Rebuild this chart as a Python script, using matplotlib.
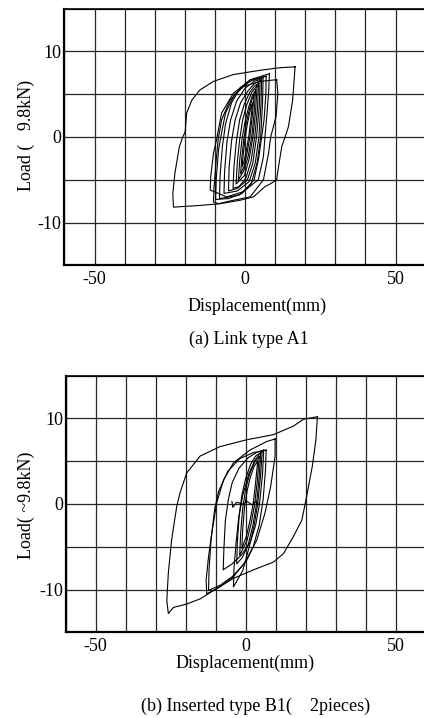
import matplotlib
matplotlib.use("Agg")
import matplotlib.pyplot as plt
import numpy as np

plt.rcParams['font.family'] = ['Liberation Serif', 'DejaVu Serif']
plt.rcParams['axes.unicode_minus'] = False

# (a) Link type A1 -- hysteresis loops, displacement (mm) vs load (x9.8kN)
a1_loops_x = [
    [16.6, 16.3, 15.8, 14.4, 13.3, 12.2, 11.1, 10.5, 8.3, 6.6, 2.8, -1.7, -8.3, -15.0, -23.8,
     -24.0, -23.3, -21.8, -20.7, -19.9, -19.4, -17.7, -15.0, -10.5, -3.9, 5.0, 11.6, 16.6],
    [10.5, 10.9, 10.3, 8.5, 7.8, 6.1, 1.7, -3.9, -8.9, -10.5, -10.3, -9.6, -8.9, -7.8, -5.0, -0.6, 5.0, 10.5],
    [8.1, 7.8, 7.2, 6.6, 6.1, 4.4, -0.6, -6.1, -11.6, -11.4, -10.5, -9.4, -7.8, -3.9, 1.7, 8.1],
    [7.0, 6.9, 6.3, 5.5, 4.5, 3.0, -1.0, -5.5, -9.8, -9.6, -8.8, -7.8, -6.5, -3.5, 1.5, 7.0],
    [6.0, 5.8, 5.2, 4.0, 2.0, -2.0, -8.5, -8.3, -7.5, -6.5, -4.5, -1.5, 2.5, 6.0],
    [5.5, 5.3, 4.6, 3.4, 1.4, -2.5, -7.0, -6.8, -6.0, -4.8, -2.8, 0.0, 3.0, 5.5],
    [5.0, 4.7, 3.8, 2.6, 0.8, -2.5, -5.5, -5.3, -4.5, -3.3, -1.5, 1.0, 3.0, 5.0],
    [4.5, 4.1, 3.2, 2.0, 0.3, -2.0, -4.0, -3.7, -2.9, -1.8, -0.3, 1.5, 3.0, 4.5],
    [4.0, 3.5, 2.6, 1.4, -0.2, -3.0, -2.6, -1.8, -0.8, 0.6, 2.2, 4.0],
    [3.5, 3.0, 2.2, 1.0, -0.5, -2.2, -1.8, -1.0, 0.0, 1.2, 2.4, 3.5],
    [3.0, 2.4, 1.6, 0.6, -0.4, -1.5, -1.1, -0.4, 0.4, 1.4, 2.3, 3.0],
    [2.5, 1.9, 1.2, 0.4, -0.3, -1.0, -0.6, 0.0, 0.7, 1.4, 2.0, 2.5],
]
a1_loops_y = [
    [8.2, 6.7, 4.3, 1.2, 0.0, -1.1, -3.5, -5.0, -5.5, -5.8, -7.0, -7.4, -7.8, -8.0, -8.2,
     -6.6, -4.2, -1.1, 0.0, 0.6, 2.8, 4.3, 5.5, 6.5, 7.3, 7.8, 8.1, 8.2],
    [6.7, 5.1, 2.4, 0.0, -1.9, -5.0, -7.0, -7.4, -7.8, -7.6, -5.8, -2.7, -0.2, 2.0, 4.3, 5.9, 6.5, 6.7],
    [7.4, 5.1, 2.4, 0.0, -2.3, -5.0, -6.4, -7.0, -6.2, -4.6, -1.9, -0.2, 2.8, 5.1, 6.7, 7.4],
    [7.1, 5.0, 2.0, 0.0, -2.5, -5.0, -6.6, -7.2, -7.3, -5.0, -1.5, 0.5, 2.8, 5.0, 6.5, 7.1],
    [7.0, 4.0, 0.0, -3.0, -5.5, -6.8, -7.2, -4.5, -1.0, 1.5, 4.0, 5.8, 6.7, 7.0],
    [6.8, 4.0, 0.0, -3.0, -5.2, -6.3, -6.6, -4.0, -0.5, 2.0, 4.2, 5.7, 6.5, 6.8],
    [6.6, 3.5, 0.0, -3.0, -5.0, -6.0, -6.3, -3.5, -0.5, 2.0, 4.0, 5.4, 6.2, 6.6],
    [6.3, 3.2, 0.0, -2.8, -4.8, -5.8, -6.0, -3.5, -0.5, 2.0, 3.8, 5.2, 5.9, 6.3],
    [6.0, 3.0, 0.0, -2.5, -4.5, -5.5, -3.0, -0.3, 2.0, 3.8, 5.2, 6.0],
    [5.5, 2.8, 0.0, -2.3, -4.0, -5.0, -2.8, -0.2, 1.8, 3.5, 4.8, 5.5],
    [5.0, 2.5, 0.0, -2.0, -3.5, -4.3, -2.5, -0.2, 1.6, 3.2, 4.4, 5.0],
    [4.0, 2.0, 0.0, -1.6, -2.8, -3.5, -2.0, -0.2, 1.4, 2.6, 3.5, 4.0],
]

# (b) Inserted type B1 (2 pieces)
b1_loops_x = [
    [23.9, 23.4, 22.2, 20.1, 18.7, 15.9, 12.6, 9.2, 2.6, -4.1, -9.7, -15.2, -19.7, -24.1, -25.8,
     -26.3, -25.8, -24.7, -23.0, -21.9, -19.7, -15.2, -8.6, 0.3, 9.2, 15.9, 19.2, 23.9],
    [9.8, 9.8, 8.3, 6.4, 3.7, 0.3, -4.1, -8.6, -13.0, -13.2, -12.4, -11.3, -9.7, -7.4, -4.1, 1.4, 7.0, 9.8],
    [6.8, 6.6, 5.8, 4.5, 2.5, -0.5, -4.5, -8.5, -12.4, -12.2, -11.5, -10.3, -9.0, -6.0, -2.0, 2.5, 6.8],
    [6.0, 5.6, 4.6, 3.3, 1.5, -1.5, -4.5, -7.5, -7.3, -6.8, -5.8, -4.5, -2.2, 0.8, 3.5, 6.0],
    [5.5, 5.0, 4.0, 2.8, 1.2, -1.0, -4.1, -3.9, -3.2, -2.3, -1.0, 1.0, 3.2, 5.5],
    [5.0, 4.5, 3.6, 2.4, 0.8, -1.2, -3.0, -2.8, -2.2, -1.3, 0.0, 1.6, 3.3, 5.0],
    [4.5, 3.9, 3.0, 1.8, 0.4, -2.0, -1.7, -1.0, 0.0, 1.4, 3.0, 4.5],
    [4.0, 3.3, 2.5, 1.4, 0.2, -1.3, -1.0, -0.4, 0.5, 1.6, 2.8, 4.0],
    [-4.6, -4.3, -3.0, -1.0, 0.5, 2.0, 3.5, 4.2],
]
b1_loops_y = [
    [10.2, 7.5, 4.4, 0.5, -1.9, -3.8, -5.8, -6.8, -7.7, -8.7, -9.9, -11.1, -11.7, -12.1, -12.8,
     -11.3, -8.1, -4.2, -0.3, 1.3, 3.6, 5.6, 6.7, 7.5, 8.1, 9.1, 9.9, 10.2],
    [7.6, 5.6, 2.0, -1.1, -4.2, -6.6, -8.5, -9.7, -10.5, -8.9, -6.2, -3.4, 0.1, 2.8, 4.8, 6.3, 7.3, 7.6],
    [6.3, 4.0, 0.5, -2.5, -5.0, -7.0, -8.5, -9.5, -10.1, -7.5, -4.0, -0.5, 1.5, 3.8, 5.3, 6.0, 6.3],
    [6.3, 3.5, 0.0, -2.5, -4.5, -6.0, -7.0, -7.7, -5.5, -2.0, 0.5, 2.5, 4.2, 5.4, 6.0, 6.3],
    [6.2, 3.5, 0.0, -2.5, -5.0, -7.8, -9.7, -7.5, -4.5, -1.5, 1.0, 3.5, 5.2, 6.2],
    [6.0, 3.2, 0.0, -2.5, -4.8, -6.3, -7.0, -4.5, -1.5, 1.0, 3.0, 4.6, 5.6, 6.0],
    [5.5, 2.8, 0.0, -2.3, -4.3, -6.0, -3.5, -0.5, 1.8, 3.6, 4.9, 5.5],
    [5.0, 2.5, 0.0, -2.0, -3.8, -5.2, -3.0, -0.4, 1.6, 3.2, 4.4, 5.0],
    [0.3, -0.4, 0.2, 0.0, 0.3, -0.1, 0.3, 0.0],
]

x_ticks = [-50, 0, 50]
y_ticks = [-10, 0, 10]

fig = plt.figure(figsize=(4.24, 7.18), dpi=100)
FS = 13


def draw_panel(rect, loops_x, loops_y):
    ax = fig.add_axes(rect)
    for xs, ys in zip(loops_x, loops_y):
        ax.plot(xs, ys, color='black', lw=0.8)
    ax.set_xlim(-60, 60)
    ax.set_ylim(-15, 15)
    ax.set_xticks(x_ticks)
    ax.set_yticks(y_ticks)
    ax.set_xticks(np.arange(-60, 61, 10), minor=True)
    ax.set_yticks(np.arange(-15, 16, 5), minor=True)
    ax.grid(True, which='both', color='0.15', lw=0.9)
    ax.set_axisbelow(True)
    ax.tick_params(which='both', length=0, labelsize=FS)
    ax.tick_params(axis='x', pad=4)
    ax.tick_params(axis='y', pad=2)
    for s in ['left', 'bottom']:
        ax.spines[s].set_linewidth(1.6)
    ax.spines['top'].set_linewidth(1.2)
    ax.spines['right'].set_visible(False)
    return ax


draw_panel([0.152, 0.6305, 0.852, 0.3574], a1_loops_x, a1_loops_y)
draw_panel([0.155, 0.1194, 0.849, 0.3574], b1_loops_x, b1_loops_y)

H = 718.0
fig.text(26 / 424, 1 - 135 / H, "Load (   9.8kN)", rotation=90, ha='center', va='center', fontsize=FS)
fig.text(257 / 424, 1 - 306 / H, "Displacement(mm)", ha='center', va='center', fontsize=FS)
fig.text(249 / 424, 1 - 339 / H, "(a) Link type A1", ha='center', va='center', fontsize=FS)

fig.text(26 / 424, 1 - 505 / H, "Load( ~9.8kN)", rotation=90, ha='center', va='center', fontsize=FS)
fig.text(245 / 424, 1 - 663 / H, "Displacement(mm)", ha='center', va='center', fontsize=FS)
fig.text(256 / 424, 1 - 706 / H, "(b) Inserted type B1(    2pieces)", ha='center', va='center', fontsize=FS)

fig.savefig("out.png", dpi=100)
